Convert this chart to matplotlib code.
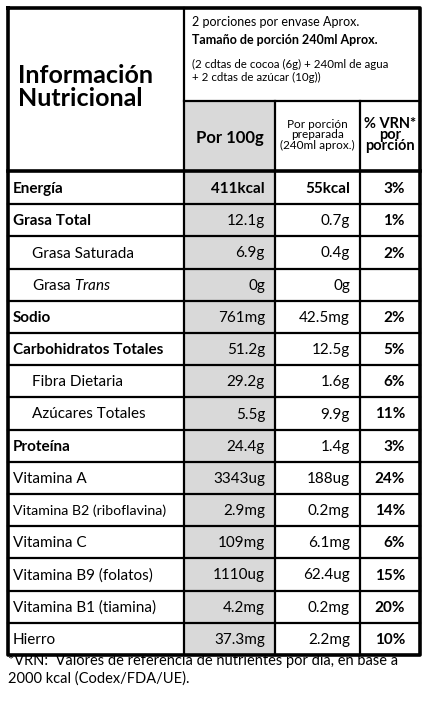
import matplotlib
matplotlib.use("Agg")
import matplotlib.pyplot as plt
from matplotlib.patches import Rectangle
from matplotlib import font_manager as fm

names = {f.name for f in fm.fontManager.ttflist}
FAM = ["Liberation Sans Narrow", "Lato", "DejaVu Sans"] if "Liberation Sans Narrow" in names else ["Lato", "DejaVu Sans"]
plt.rcParams['font.family'] = FAM
plt.rcParams['mathtext.fontset'] = 'custom'
plt.rcParams['mathtext.it'] = FAM[0] + ':italic'
plt.rcParams['mathtext.rm'] = FAM[0]

labels = ["Energía", "Grasa Total", "Grasa Saturada", "Grasa $\\it{Trans}$", "Sodio",
          "Carbohidratos Totales", "Fibra Dietaria", "Azúcares Totales", "Proteína",
          "Vitamina A", "Vitamina B2 (riboflavina)", "Vitamina C", "Vitamina B9 (folatos)",
          "Vitamina B1 (tiamina)", "Hierro"]
per100 = ["411kcal", "12.1g", "6.9g", "0g", "761mg", "51.2g", "29.2g", "5.5g", "24.4g",
          "3343ug", "2.9mg", "109mg", "1110ug", "4.2mg", "37.3mg"]
perport = ["55kcal", "0.7g", "0.4g", "0g", "42.5mg", "12.5g", "1.6g", "9.9g", "1.4g",
           "188ug", "0.2mg", "6.1mg", "62.4ug", "0.2mg", "2.2mg"]
vrn = ["3%", "1%", "2%", "", "2%", "5%", "6%", "11%", "3%", "24%", "14%", "6%", "15%", "20%", "10%"]
bold_rows = [0, 1, 4, 5, 8]
indent_rows = [2, 3, 6, 7]

W, H = 428, 701
fig = plt.figure(figsize=(W/100, H/100), dpi=100)
ax = fig.add_axes([0, 0, 1, 1])
ax.set_xlim(0, W); ax.set_ylim(H, 0); ax.axis('off')

L, C1, C2, C3, R = 8, 184, 275, 360, 420
T, HS, HB, RT, B = 8, 101, 170, 172, 655
rh = (B - RT) / len(labels)
gray = "#d9d9d9"

ax.add_patch(Rectangle((C1, HS), C2-C1, B-HS, fc=gray, ec='none'))
lw = 1.6
ax.plot([L, R, R, L, L], [T, T, B, B, T], color='black', lw=2.6)
ax.plot([C1, C1], [T, B], color='black', lw=lw)
ax.plot([C1, R], [HS, HS], color='black', lw=lw)
ax.plot([C2, C2], [HS, B], color='black', lw=lw)
ax.plot([C3, C3], [HS, B], color='black', lw=lw)
ax.plot([L, R], [HB+1, HB+1], color='black', lw=2.6)
for i in range(1, len(labels)):
    y = RT + i*rh
    ax.plot([L, R], [y, y], color='black', lw=lw)

ax.text(18, 87, "Información\nNutricional", fontsize=18, fontweight='bold', va='center',
        ha='left', linespacing=1.05)
ax.text(192, 22, "2 porciones por envase Aprox.", fontsize=9, va='center')
ax.text(192, 40, "Tamaño de porción 240ml Aprox.", fontsize=9, fontweight='bold', va='center')
ax.text(192, 71, "(2 cdtas de cocoa (6g) + 240ml de agua\n+ 2 cdtas de azúcar (10g))", fontsize=8.3,
        va='center', linespacing=1.15)
ax.text((C1+C2)/2, 138, "Por 100g", fontsize=12, fontweight='bold', ha='center', va='center')
ax.text((C2+C3)/2, 135, "Por porción\npreparada\n(240ml aprox.)", fontsize=8.5, ha='center',
        va='center', linespacing=0.9)
ax.text((C3+R)/2, 135, "% VRN*\npor\nporción", fontsize=10.5, fontweight='bold', ha='center',
        va='center', linespacing=0.75)

for i, lab in enumerate(labels):
    yc = RT + (i+0.5)*rh + 1
    b = 'bold' if i in bold_rows else 'normal'
    x = 32 if i in indent_rows else 13
    fs = 10.2 if i == 10 else 11
    ax.text(x, yc, lab, fontsize=fs, fontweight=b, va='center', ha='left')
    vb = 'bold' if i == 0 else 'normal'
    ax.text(265, yc, per100[i], fontsize=11, fontweight=vb, va='center', ha='right')
    ax.text(350, yc, perport[i], fontsize=11, fontweight=vb, va='center', ha='right')
    ax.text(405, yc, vrn[i], fontsize=11, fontweight='bold', va='center', ha='right')

ax.text(8, 670, "*VRN:  Valores de referencia de nutrientes por día, en base a\n2000 kcal (Codex/FDA/UE).",
        fontsize=10.5, va='center', ha='left', linespacing=1.3)

fig.savefig("out.png", dpi=100)
